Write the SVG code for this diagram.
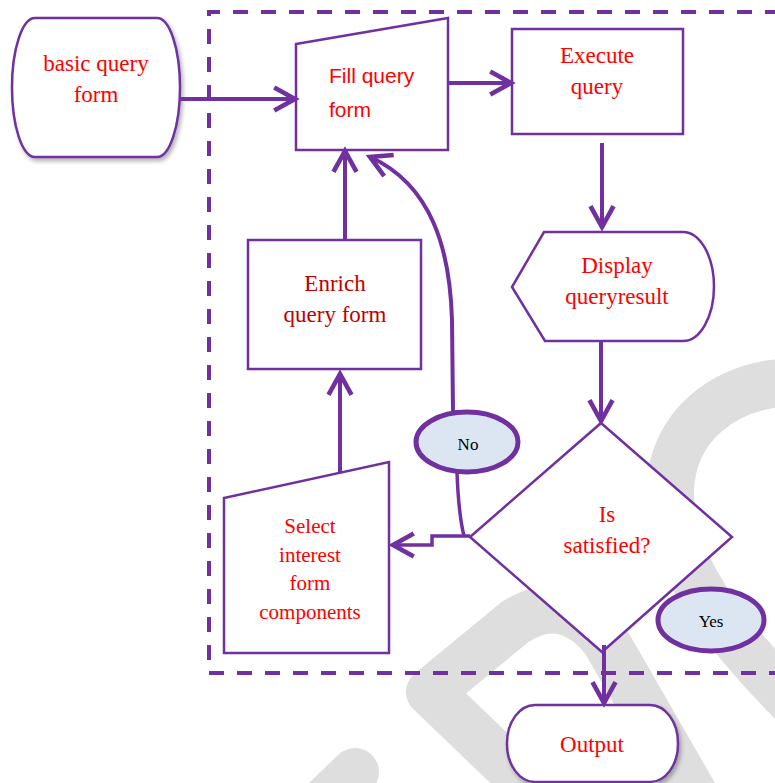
<svg xmlns="http://www.w3.org/2000/svg" width="775" height="783" viewBox="0 0 775 783">
<style>
.wm{fill:none;stroke:#dedede;stroke-width:48;stroke-linecap:round;stroke-linejoin:round}
.frame{fill:none;stroke:#7030a0;stroke-width:4;stroke-dasharray:15 13}
.node{fill:#fff;stroke:#7030a0;stroke-width:2.5}
.oval{fill:#dce6f2;stroke:#7030a0;stroke-width:5}
.conn{fill:none;stroke:#7030a0;stroke-width:4}
.thin{stroke-width:3.5}
.t{font-family:"Liberation Serif","Times New Roman",serif;font-size:23px;fill:#ff0000;text-anchor:middle}
.ts{font-family:"Liberation Sans",Arial,sans-serif;font-size:21px;fill:#ff0000}
.sm{font-size:21px}
.dk{fill:#c00000}
.lbl{font-family:"Liberation Serif","Times New Roman",serif;font-size:17px;fill:#000;text-anchor:middle}
</style>
<defs>
<marker id="ah" markerUnits="userSpaceOnUse" markerWidth="30" markerHeight="30" viewBox="-22 -13 26 26" refX="0" refY="0" orient="auto">
<path d="M -18,-10 L 0,0 L -18,10" fill="none" stroke="#7030a0" stroke-width="4" stroke-linejoin="miter"/>
</marker>
<filter id="sh" x="-10%" y="-10%" width="130%" height="130%">
<feDropShadow dx="2" dy="3" stdDeviation="2" flood-color="#000" flood-opacity="0.3"/>
</filter>
</defs>
<rect width="775" height="783" fill="#fff"/>
<g id="watermark">
<path class="wm" d="M 800,382 C 720,382 672,430 670,490 C 668,560 720,630 800,710"/>
<path class="wm" d="M 548,805 L 430,692 L 515,622 Q 565,590 605,640 L 700,805"/>
<path class="wm" d="M 305,820 L 355,772"/>
</g>
<path id="frame" class="frame" d="M 780,12 H 209 V 673 H 780"/>
<g id="basic-query-form">
<path class="node" filter="url(#sh)" d="M 35,18 H 157 A 23 69.5 0 0 1 157,157 H 35 A 23 69.5 0 0 1 35,18 Z"/>
<text class="t" x="96" y="71">basic query</text>
<text class="t" x="96" y="102">form</text>
</g>
<g id="fill-query-form">
<polygon class="node" points="296,44 448,18 448,150 296,150"/>
<text class="ts" x="329" y="83">Fill query</text>
<text class="ts" x="329" y="117">form</text>
</g>
<g id="execute-query">
<rect class="node" x="512" y="29" width="171" height="105"/>
<text class="t" x="597" y="63">Execute</text>
<text class="t" x="597" y="94">query</text>
</g>
<g id="display-query-result">
<path class="node" d="M 544,232 H 683 A 31 54.5 0 0 1 683,341 H 545 L 512,287 Z"/>
<text class="t" x="617" y="273">Display</text>
<text class="t" x="617" y="304">queryresult</text>
</g>
<g id="enrich-query-form">
<rect class="node" x="248" y="240" width="173" height="129"/>
<text class="t dk" x="335" y="291">Enrich</text>
<text class="t dk" x="335" y="322">query form</text>
</g>
<g id="select-components">
<polygon class="node" points="224,498 389,462 389,653 224,653"/>
<text class="t sm" x="310" y="533">Select</text>
<text class="t sm" x="310" y="562">interest</text>
<text class="t sm" x="310" y="590">form</text>
<text class="t sm" x="310" y="619">components</text>
</g>
<g id="is-satisfied">
<polygon class="node" points="601,423 732,537 602,652 470,537"/>
<text class="t" x="607" y="522">Is</text>
<text class="t" x="607" y="553">satisfied?</text>
</g>
<g id="output">
<rect class="node" filter="url(#sh)" x="507" y="705" width="171" height="77" rx="28" ry="38"/>
<text class="t" x="592" y="752">Output</text>
</g>
<g id="connectors">
<path class="conn" d="M 180,99 H 295" marker-end="url(#ah)"/>
<path class="conn" d="M 448,83 H 511" marker-end="url(#ah)"/>
<path class="conn" d="M 602,143 V 227" marker-end="url(#ah)"/>
<path class="conn" d="M 601,342 V 421" marker-end="url(#ah)"/>
<path class="conn" d="M 604,645 V 703" marker-end="url(#ah)"/>
<path class="conn" d="M 345,240 V 151" marker-end="url(#ah)"/>
<path class="conn" d="M 340,472 V 374" marker-end="url(#ah)"/>
<path class="conn" d="M 453,412 L 452,320 C 450,250 432,185 370,157" marker-end="url(#ah)"/>
<path class="conn thin" d="M 457,472 C 458,500 460,520 464,536"/>
<path class="conn thin" d="M 470,536 H 432 V 545 H 393" marker-end="url(#ah)"/>
</g>
<g id="no-label">
<ellipse class="oval" cx="467" cy="442" rx="51" ry="30"/>
<text class="lbl" x="468" y="450">No</text>
</g>
<g id="yes-label">
<ellipse class="oval" cx="711" cy="620" rx="53" ry="31"/>
<text class="lbl" x="711" y="627">Yes</text>
</g>
</svg>
